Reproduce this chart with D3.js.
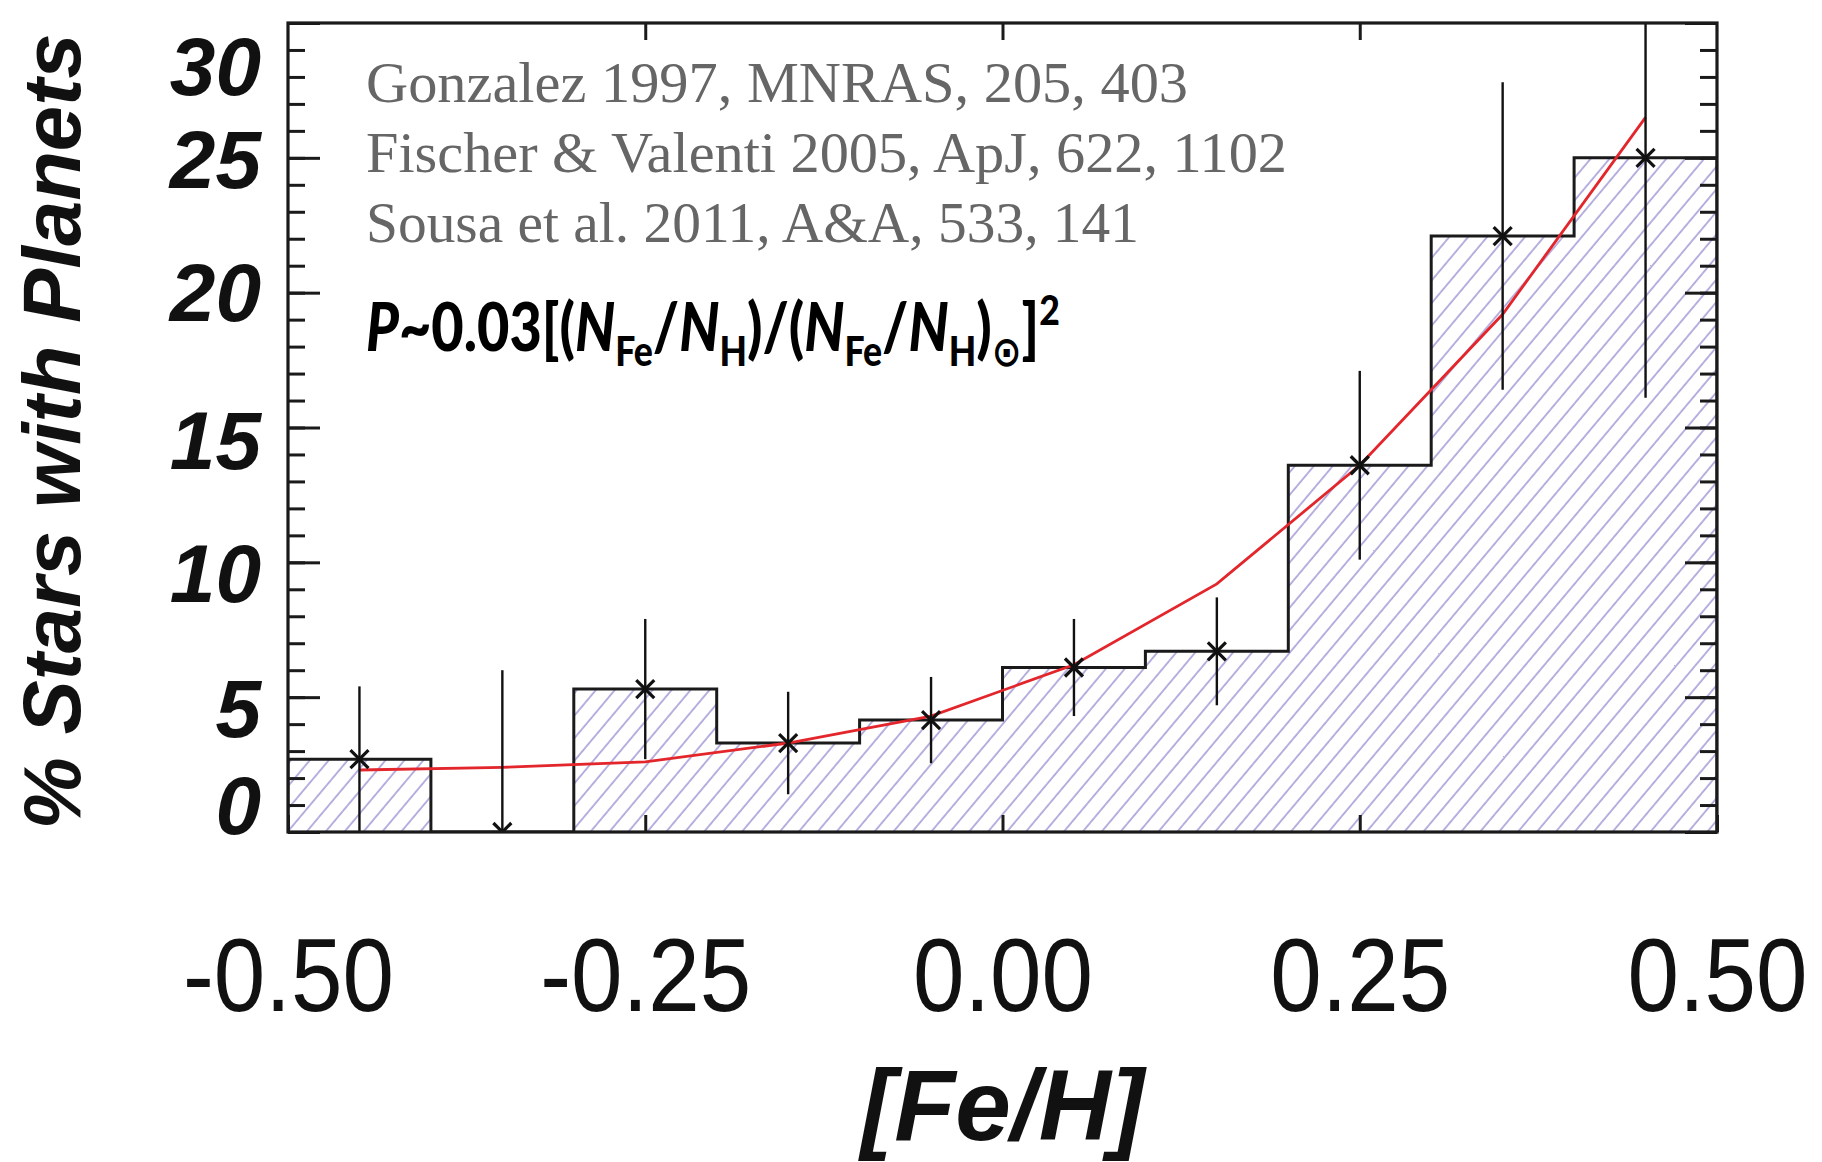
<!DOCTYPE html>
<html><head><meta charset="utf-8">
<script src="https://cdn.jsdelivr.net/npm/d3@7"></script>
<style>html,body{margin:0;padding:0;background:#fff}svg{display:block}</style>
</head><body>
<svg id="chart" width="1822" height="1162"></svg>
<script>
// ---------- data ----------
const binEdges = [-0.5, -0.4, -0.3, -0.2, -0.1, 0.0, 0.1, 0.2, 0.3, 0.4, 0.5];
const binCenters = [-0.45, -0.35, -0.25, -0.15, -0.05, 0.05, 0.15, 0.25, 0.35, 0.45];
const percentWithPlanets = [2.7, 0, 5.3, 3.3, 4.15, 6.1, 6.7, 13.6, 22.1, 25.0];
const errorSizes = [2.7, 6.0, 2.6, 1.9, 1.6, 1.8, 2.0, 3.5, 5.7, 8.9];
const fitValues = [2.3, 2.4, 2.6, 3.3, 4.3, 6.2, 9.2, 13.6, 19.2, 26.5];
const xTickValues = [-0.5, -0.25, 0, 0.25, 0.5];
const xTickLabels = ["-0.50", "-0.25", "0.00", "0.25", "0.50"];
const xTopTickValues = [-0.25, 0, 0.25];
const yTickValues = [0, 5, 10, 15, 20, 25, 30];
const yTickLabels = ["0", "5", "10", "15", "20", "25", "30"];
const yMinorTickValues = d3.range(0, 31, 1);
const references = [
  "Gonzalez 1997, MNRAS, 205, 403",
  "Fischer & Valenti 2005, ApJ, 622, 1102",
  "Sousa et al. 2011, A&A, 533, 141"
];
const xTitle = "[Fe/H]";
const yTitle = "% Stars with Planets";

// ---------- layout / style ----------
const plot = {left: 288, right: 1717, top: 23, bottom: 832};
const yLabelNudge = {0: -28, 5: 10, 10: 10, 15: 11, 20: -2, 25: 0, 30: 42};
const hatchColor = "#7466c0";
const sans = "'Liberation Sans', Arial, Helvetica, sans-serif";

const svg = d3.select("#chart");
svg.append("rect").attr("width", 1822).attr("height", 1162).attr("fill", "#fff");

const x = d3.scaleLinear().domain([-0.5, 0.5]).range([plot.left, plot.right]);
const y = d3.scaleLinear().domain([0, 30]).range([plot.bottom, plot.top]);

const defs = svg.append("defs");
defs.append("clipPath").attr("id", "plotClip").append("rect")
  .attr("x", plot.left).attr("y", plot.top)
  .attr("width", plot.right - plot.left).attr("height", plot.bottom - plot.top);
const pat = defs.append("pattern").attr("id", "hatch")
  .attr("patternUnits", "userSpaceOnUse").attr("width", 14.5).attr("height", 14.5)
  .attr("patternTransform", "rotate(40)");
pat.append("line").attr("x1", 1).attr("y1", -2).attr("x2", 1).attr("y2", 17)
  .attr("stroke", hatchColor).attr("stroke-width", 1.3).attr("stroke-opacity", 0.8);

const data = svg.append("g").attr("clip-path", "url(#plotClip)");

// histogram
const steps = [{e: binEdges[0], v: 0}]
  .concat(binEdges.map((e, i) => ({e, v: percentWithPlanets[Math.min(i, percentWithPlanets.length - 1)]})))
  .concat([{e: binEdges[binEdges.length - 1], v: 0}]);
data.append("path").datum(steps)
  .attr("d", d3.area().x(d => x(d.e)).y0(y(0)).y1(d => y(d.v)).curve(d3.curveStepAfter))
  .attr("fill", "url(#hatch)");
data.append("path").datum(steps)
  .attr("d", d3.line().x(d => x(d.e)).y(d => y(d.v)).curve(d3.curveStepAfter))
  .attr("fill", "none").attr("stroke", "#1a1a1a").attr("stroke-width", 3);

// fit curve
const fitPts = binCenters.map((c, i) => ({c, v: fitValues[i]}));
data.append("path").datum(fitPts)
  .attr("d", d3.line().x(d => x(d.c)).y(d => y(d.v)))
  .attr("fill", "none").attr("stroke", "#e3262b").attr("stroke-width", 2.8);

// error bars + markers
const pts = binCenters.map((c, i) => ({c, v: percentWithPlanets[i], e: errorSizes[i]}));
data.selectAll(".err").data(pts).join("line").attr("class", "err")
  .attr("x1", d => x(d.c)).attr("x2", d => x(d.c))
  .attr("y1", d => y(Math.max(0, d.v - d.e))).attr("y2", d => y(d.v + d.e))
  .attr("stroke", "#111").attr("stroke-width", 2.4);
const s = 9;
data.selectAll(".mk").data(pts).join("path").attr("class", "mk")
  .attr("transform", d => `translate(${x(d.c)},${y(d.v)})`)
  .attr("d", `M${-s},${-s}L${s},${s}M${-s},${s}L${s},${-s}`)
  .attr("stroke", "#111").attr("stroke-width", 3.2).attr("fill", "none");

// axes
function styleTicks(g) {
  g.select(".domain").remove();
  g.selectAll(".tick line").attr("stroke", "#1a1a1a").attr("stroke-width", 3);
}
svg.append("g").attr("transform", `translate(${plot.left},0)`)
  .call(d3.axisLeft(y).tickValues(yMinorTickValues).tickSize(-17).tickFormat(""))
  .call(styleTicks);
svg.append("g").attr("transform", `translate(${plot.right},0)`)
  .call(d3.axisRight(y).tickValues(yMinorTickValues).tickSize(-17).tickFormat(""))
  .call(styleTicks);
svg.append("g").attr("transform", `translate(${plot.right},0)`)
  .call(d3.axisRight(y).tickValues(yTickValues).tickSize(-32).tickFormat(""))
  .call(styleTicks);
const yAx = svg.append("g").attr("transform", `translate(${plot.left},0)`)
  .call(d3.axisLeft(y).tickValues(yTickValues).tickSize(-32).tickPadding(27)
    .tickFormat((d, i) => yTickLabels[i]))
  .call(styleTicks);
yAx.selectAll(".tick text")
  .attr("font-family", sans).attr("font-weight", "bold").attr("font-style", "italic")
  .attr("font-size", 82).attr("fill", "#111")
  .attr("dy", "0.36em")
  .attr("y", d => yLabelNudge[d] || 0);

svg.append("g").attr("transform", `translate(0,${plot.top})`)
  .call(d3.axisTop(x).tickValues(xTopTickValues).tickSize(-17).tickFormat(""))
  .call(styleTicks);
const xAx = svg.append("g").attr("transform", `translate(0,${plot.bottom})`)
  .call(d3.axisBottom(x).tickValues(xTickValues).tickSize(-17)
    .tickFormat((d, i) => xTickLabels[i]))
  .call(styleTicks);
xAx.selectAll(".tick text")
  .attr("font-family", sans).attr("font-size", 104).attr("fill", "#111")
  .attr("y", 179).attr("dy", 0)
  .attr("transform", "scale(0.89,1)");

// frame
svg.append("rect")
  .attr("x", plot.left).attr("y", plot.top)
  .attr("width", plot.right - plot.left).attr("height", plot.bottom - plot.top)
  .attr("fill", "none").attr("stroke", "#1a1a1a").attr("stroke-width", 3.2);

// axis titles
svg.append("text")
  .attr("transform", `translate(80,${(plot.top + plot.bottom) / 2 + 4}) rotate(-90)`)
  .attr("text-anchor", "middle").attr("font-family", sans)
  .attr("font-weight", "bold").attr("font-style", "italic").attr("font-size", 82)
  .attr("textLength", 796).attr("lengthAdjust", "spacingAndGlyphs")
  .attr("fill", "#111").text(yTitle);
svg.append("text")
  .attr("x", x(0)).attr("y", 1140)
  .attr("text-anchor", "middle").attr("font-family", sans)
  .attr("font-weight", "bold").attr("font-style", "italic").attr("font-size", 100)
  .attr("fill", "#111").text(xTitle);

// references
const refLens = [822, 921, 773];
svg.selectAll(".ref").data(references).join("text").attr("class", "ref")
  .attr("x", 366).attr("y", (d, i) => 102 + i * 70)
  .attr("font-family", "'Liberation Serif', 'Times New Roman', serif")
  .attr("font-size", 56).attr("fill", "#666")
  .attr("textLength", (d, i) => refLens[i]).attr("lengthAdjust", "spacingAndGlyphs")
  .text(d => d);

// formula
const f = svg.append("text").attr("x", 366).attr("y", 351)
  .attr("font-family", "Lato, 'Open Sans', sans-serif").attr("font-weight", 900)
  .attr("font-size", 66).attr("fill", "#000");
const parts = [
  {t: "P", it: true}, {t: "~0.03[("}, {t: "N", it: true}, {t: "Fe", sub: true},
  {t: "/"}, {t: "N", it: true}, {t: "H", sub: true}, {t: ")/("},
  {t: "N", it: true}, {t: "Fe", sub: true}, {t: "/"}, {t: "N", it: true},
  {t: "H", sub: true}, {t: ")"}, {t: "\u2299", sub: true, sun: true}, {t: "]"}, {t: "2", sup: true}
];
let shift = 0;
parts.forEach(p => {
  const target = p.sub ? 15 : p.sup ? -26 : 0;
  const ts = f.append("tspan").text(p.t).attr("dy", target - shift);
  shift = target;
  if (p.it) ts.attr("font-style", "italic");
  if (p.sub || p.sup) ts.attr("font-size", 42);
  if (p.sun) ts.attr("font-family", "'DejaVu Sans', sans-serif").attr("font-size", 42).attr("font-weight", "bold");
});
const fw = f.node().getBBox().width;
f.attr("transform", `translate(366,0) scale(${694 / fw},1) translate(-366,0)`);
</script>
</body></html>
